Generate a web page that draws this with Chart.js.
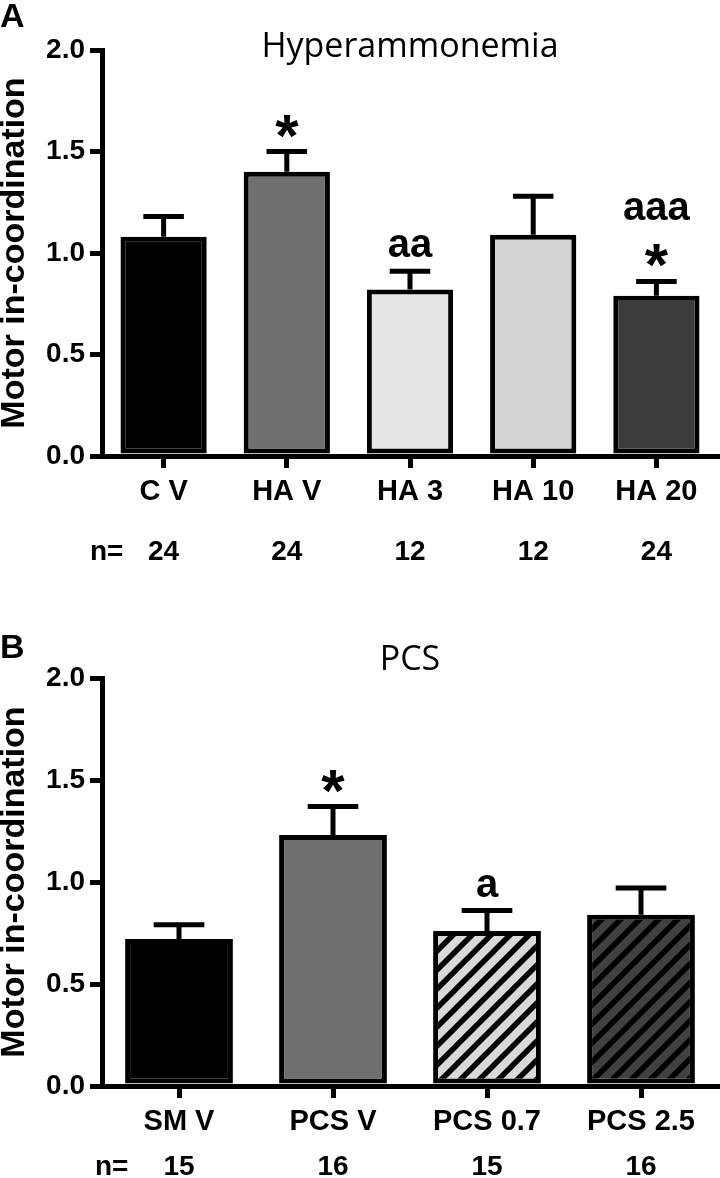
<!DOCTYPE html>
<html>
<head>
<meta charset="utf-8">
<script src="https://cdn.jsdelivr.net/npm/chart.js@4.4.0/dist/chart.umd.min.js"></script>
<style>
  html, body { margin: 0; padding: 0; background: #fff; }
  canvas { position: absolute; left: 0; display: block; }
  #chartA { top: 0; }
  #chartB { top: 590px; }
</style>
</head>
<body>
<canvas id="chartA" width="720" height="590"></canvas>
<canvas id="chartB" width="720" height="588"></canvas>
<script>
// Panel A - Hyperammonemia
const haLabels = ['C V', 'HA V', 'HA 3', 'HA 10', 'HA 20'];
const haMeans = [1.08, 1.40, 0.82, 1.09, 0.79];
const haSem = [0.10, 0.10, 0.09, 0.19, 0.07];
const haN = [24, 24, 12, 12, 24];
const haMarks = [[], ['*'], ['aa'], [], ['*', 'aaa']];

// Panel B - PCS
const pcsLabels = ['SM V', 'PCS V', 'PCS 0.7', 'PCS 2.5'];
const pcsMeans = [0.72, 1.23, 0.76, 0.84];
const pcsSem = [0.07, 0.14, 0.10, 0.13];
const pcsN = [15, 16, 15, 16];
const pcsMarks = [[], ['*'], ['a'], []];

const yTicks = [0, 0.5, 1.0, 1.5, 2.0];

const FONT = "'Liberation Sans', Arial, sans-serif";
Chart.defaults.font.family = FONT;
Chart.defaults.color = '#000';

// diagonal hatch used by the PCS drug groups
function stripes(bg) {
    const s = 19;
    const c = document.createElement('canvas');
    c.width = s; c.height = s;
    const g = c.getContext('2d');
    g.fillStyle = bg;
    g.fillRect(0, 0, s, s);
    g.strokeStyle = '#000';
    g.lineWidth = 5.5;
    g.beginPath();
    g.moveTo(-s / 2, s / 2); g.lineTo(s / 2, -s / 2);
    g.moveTo(0, s); g.lineTo(s, 0);
    g.moveTo(s / 2, s * 1.5); g.lineTo(s * 1.5, s / 2);
    g.stroke();
    return document.getElementById('chartB').getContext('2d').createPattern(c, 'repeat');
}

// error bars, significance marks, titles and n= row
const extras = {
    id: 'extras',
    afterDatasetsDraw(chart, args, o) {
        const ctx = chart.ctx;
        const y = chart.scales.y;
        const bars = chart.getDatasetMeta(0).data;
        ctx.save();
        ctx.strokeStyle = '#000';
        ctx.fillStyle = '#000';
        ctx.lineWidth = 5;
        bars.forEach((bar, i) => {
            const top = y.getPixelForValue(o.means[i] + o.sem[i]);
            const half = bar.width * 0.235;
            ctx.beginPath();
            ctx.moveTo(bar.x, bar.y);
            ctx.lineTo(bar.x, top);
            ctx.moveTo(bar.x - half, top);
            ctx.lineTo(bar.x + half, top);
            ctx.stroke();

            let cursor = top - 14;
            o.marks[i].forEach(m => {
                ctx.font = m === '*' ? 'bold 60px ' + FONT : 'bold 40px ' + FONT;
                ctx.textAlign = 'center';
                ctx.textBaseline = 'alphabetic';
                const mt = ctx.measureText(m);
                ctx.fillText(m, bar.x, cursor - mt.actualBoundingBoxDescent);
                cursor -= mt.actualBoundingBoxAscent + mt.actualBoundingBoxDescent + 24;
            });

            ctx.font = 'bold 28px ' + FONT;
            ctx.textAlign = 'center';
            ctx.fillText(String(o.n[i]), bar.x, o.nY);
        });

        ctx.textAlign = 'left';
        ctx.font = 'bold 28px ' + FONT;
        ctx.fillText('n=', o.nX, o.nY);

        ctx.font = 'bold 34px ' + FONT;
        ctx.fillText(o.letter, 0, o.letterY);

        ctx.font = "34px 'Open Sans', sans-serif";
        ctx.textAlign = 'center';
        const ca = chart.chartArea;
        ctx.fillText(o.title, (ca.left + ca.right) / 2, o.titleY);
        ctx.restore();
    }
};

function makeChart(id, labels, means, colors, axisH, top, extra) {
    return new Chart(document.getElementById(id), {
        type: 'bar',
        data: {
            labels: labels,
            datasets: [{
                data: means,
                backgroundColor: colors,
                borderColor: '#000',
                borderWidth: 5,
                borderSkipped: false,
                barPercentage: 0.7,
                categoryPercentage: 1.0
            }]
        },
        options: {
            responsive: false,
            animation: false,
            layout: { padding: { left: 0, right: 2, top: top, bottom: 0 } },
            plugins: {
                legend: { display: false },
                tooltip: { enabled: false },
                extras: extra
            },
            scales: {
                x: {
                    grid: { offset: false, drawOnChartArea: false, color: '#000', lineWidth: 5, tickLength: 12 },
                    border: { color: '#000', width: 5 },
                    ticks: { font: { size: 29, weight: 'bold' }, padding: 7, maxRotation: 0 },
                    afterFit: s => { s.height = axisH; }
                },
                y: {
                    min: 0,
                    max: 2,
                    afterBuildTicks: s => { s.ticks = yTicks.map(v => ({ value: v })); },
                    grid: { drawOnChartArea: false, color: '#000', lineWidth: 5, tickLength: 12 },
                    border: { color: '#000', width: 5 },
                    ticks: { font: { size: 28, weight: 'bold' }, padding: 5, callback: v => v.toFixed(1) },
                    title: {
                        display: true,
                        text: 'Motor in-coordination',
                        font: { size: 34, weight: 'bold', lineHeight: 0.85 },
                        padding: 0
                    },
                    afterFit: s => { s.width = 102; }
                }
            }
        },
        plugins: [extras]
    });
}

makeChart('chartA', haLabels, haMeans,
    ['#000000', '#707070', '#e6e6e6', '#d4d4d4', '#3c3c3c'], 134, 50,
    { means: haMeans, sem: haSem, n: haN, marks: haMarks, nX: 90, nY: 560,
      letter: 'A', letterY: 27, title: 'Hyperammonemia', titleY: 57 });

makeChart('chartB', pcsLabels, pcsMeans,
    ['#000000', '#6f6f6f', stripes('#d9d9d9'), stripes('#404040')], 92, 88,
    { means: pcsMeans, sem: pcsSem, n: pcsN, marks: pcsMarks, nX: 95, nY: 585,
      letter: 'B', letterY: 68, title: 'PCS', titleY: 80 });
</script>
</body>
</html>
